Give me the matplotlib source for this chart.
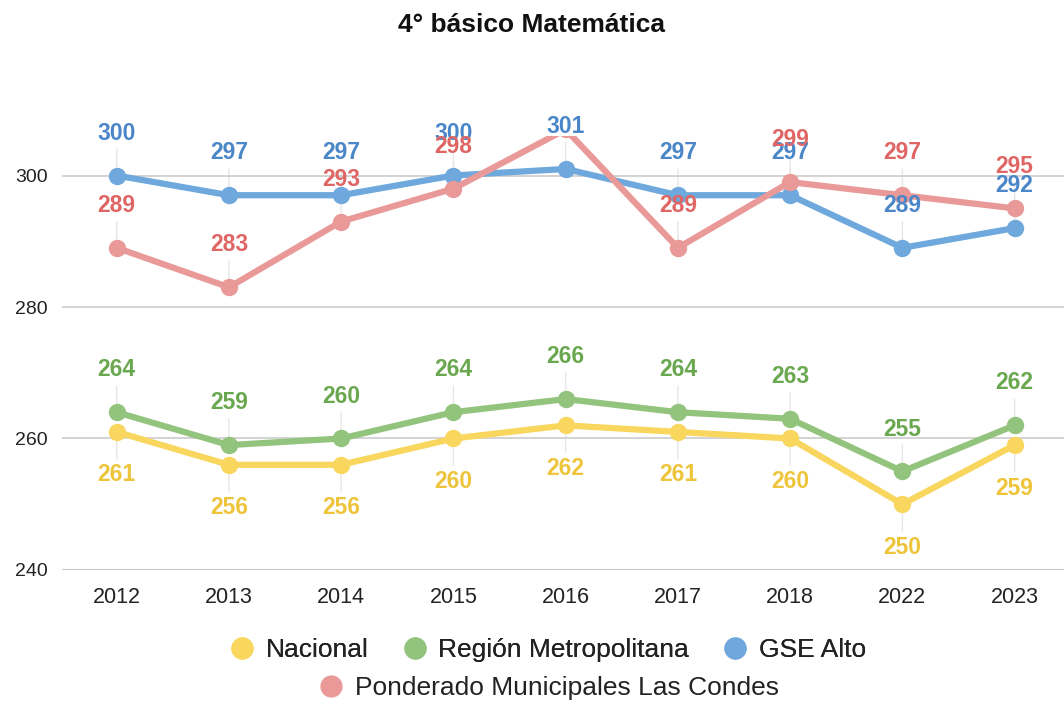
import matplotlib
matplotlib.use("Agg")
import matplotlib.pyplot as plt
from matplotlib.lines import Line2D

plt.rcParams['font.family'] = ['Liberation Sans', 'DejaVu Sans']

years = ["2012", "2013", "2014", "2015", "2016", "2017", "2018", "2022", "2023"]
nacional = [261, 256, 256, 260, 262, 261, 260, 250, 259]
region_metropolitana = [264, 259, 260, 264, 266, 264, 263, 255, 262]
gse_alto = [300, 297, 297, 300, 301, 297, 297, 289, 292]
ponderado_lc = [289, 283, 293, 298, 307, 289, 299, 297, 295]

names = ["Nacional", "Región Metropolitana", "GSE Alto", "Ponderado Municipales Las Condes"]
line_colors = ["#F9D65E", "#93C47D", "#6FA8DC", "#EA9999"]
label_colors = ["#EEC43A", "#6AA84F", "#4A86C8", "#E06666"]
label_pos = ["below", "above", "above", "above"]
series = [nacional, region_metropolitana, gse_alto, ponderado_lc]

yticks = [240, 260, 280, 300]
ymin, ymax = 240, 306

fig = plt.figure(figsize=(10.64, 7.05), dpi=100)
ax = fig.add_axes([0.058, 0.1915, 0.942, 0.6155])
ax.set_xlim(-0.49, 8.44)
ax.set_ylim(ymin, ymax)

x = list(range(len(years)))
handles = []
for vals, name, lc, tc, pos in zip(series, names, line_colors, label_colors, label_pos):
    ln, = ax.plot(x, vals, color=lc, lw=4.5, marker='o', markersize=11.5,
                  solid_joinstyle='round', zorder=3, label=name)
    handles.append(Line2D([], [], color=lc, marker='o', linestyle='None', markersize=15))
    for xi, v in zip(x, vals):
        if v > ymax or v < ymin:
            continue
        off = 30.5 if pos == "above" else -31
        ax.annotate(str(v), (xi, v), xytext=(0, off), textcoords='offset points',
                    ha='center', va='center', fontsize=16.5, fontweight='bold',
                    color=tc, annotation_clip=False, zorder=5)
        # faint leader line
        ax.annotate("", (xi, v), xytext=(0, off * 0.62), textcoords='offset points',
                    arrowprops=dict(arrowstyle='-', color='#e6e6e6', lw=1,
                                    shrinkA=0, shrinkB=6),
                    annotation_clip=False, zorder=1)

ax.set_yticks(yticks)
ax.set_xticks(x)
ax.set_xticklabels(years)
ax.grid(axis='y', color='#cccccc', lw=1.2, zorder=0)
ax.tick_params(axis='both', length=0, labelsize=14, colors='#222222', pad=12)
ax.tick_params(axis='x', labelsize=15.5)
ax.tick_params(axis='y', pad=10)
for s in ax.spines.values():
    s.set_visible(False)
ax.axhline(240, color='#bbbbbb', lw=1.5, zorder=1)

fig.suptitle("4° básico Matemática", y=0.982, fontsize=19, fontweight='bold', color='#111111')

leg1 = fig.legend(handles[:3], names[:3], loc='center', bbox_to_anchor=(0.515, 0.078),
                  ncol=3, frameon=False, fontsize=19, handletextpad=0.45,
                  columnspacing=1.3, handlelength=0.9, labelcolor='#222222')
leg2 = fig.legend(handles[3:], names[3:], loc='center', bbox_to_anchor=(0.516, 0.024),
                  ncol=1, frameon=False, fontsize=19, handletextpad=0.45,
                  handlelength=0.9, labelcolor='#222222')
fig.add_artist(leg1)

fig.savefig("out.png", dpi=100, facecolor='white')
